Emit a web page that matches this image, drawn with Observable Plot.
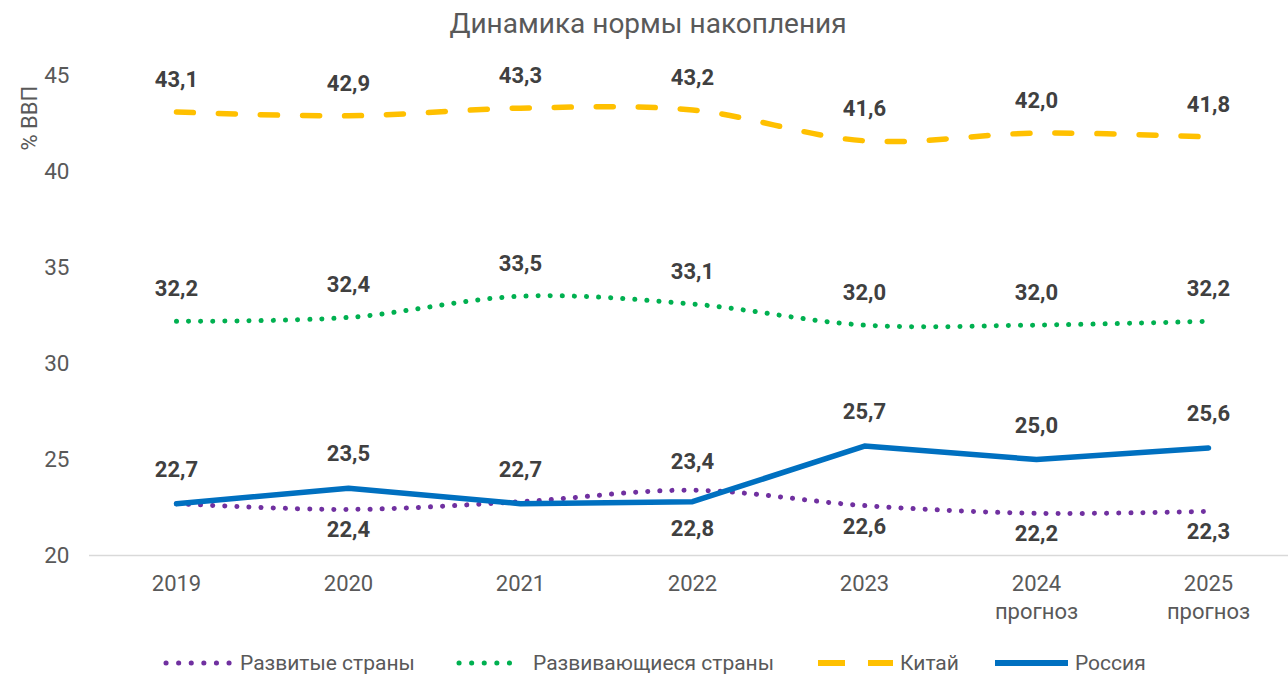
<!DOCTYPE html>
<html>
<head>
<meta charset="utf-8">
<script src="https://cdn.jsdelivr.net/npm/d3@7"></script>
<script src="https://cdn.jsdelivr.net/npm/@observablehq/plot@0.6"></script>
<style>
  html, body { margin: 0; padding: 0; background: #fff; }
  #wrap { position: relative; width: 1288px; height: 675px; font-family: Roboto, "Noto Sans", sans-serif; }
  #title { position: absolute; left: 0; top: 0; width: 1296px; height: 48px; line-height: 48px; text-align: center; font-size: 28px; color: #595959; }
  #chart { position: absolute; left: 0; top: 50px; }
  .leg { position: absolute; top: 649px; height: 28px; display: flex; align-items: center; font-size: 21px; color: #595959; white-space: nowrap; }
</style>
</head>
<body>
<div id="wrap">
  <div id="title">Динамика нормы накопления</div>
  <div id="chart"></div>
  <div id="legend"></div>
</div>
<script>
const years = ["2019", "2020", "2021", "2022", "2023", "2024", "2025"];
const tickLabels = ["2019", "2020", "2021", "2022", "2023", "2024\nпрогноз", "2025\nпрогноз"];
const yTicks = [20, 25, 30, 35, 40, 45];
const seriesNames = ["Развитые страны", "Развивающиеся страны", "Китай", "Россия"];
const developed = [22.7, 22.4, 22.8, 23.4, 22.6, 22.2, 22.3];
const developing = [32.2, 32.4, 33.5, 33.1, 32.0, 32.0, 32.2];
const china = [43.1, 42.9, 43.3, 43.2, 41.6, 42.0, 41.8];
const russia = [22.7, 23.5, 22.7, 22.8, 25.7, 25.0, 25.6];

const colors = { dev: "#7030A0", devg: "#00B050", china: "#FFC000", russia: "#0070C0" };
const fmt = v => v.toFixed(1).replace(".", ",");
const rows = vals => years.map((y, i) => ({ year: y, value: vals[i], i }));

const devRows = rows(developed);
const devgRows = rows(developing);
const chinaRows = rows(china);
const rusRows = rows(russia);

// label placement (which points show labels, above or below)
const devAbove = devRows.filter(d => d.i === 3);
const devBelow = devRows.filter(d => [1, 4, 5, 6].includes(d.i));
const rusAbove = rusRows.filter(d => d.i !== 3);
const rusBelow = rusRows.filter(d => d.i === 3);

const labelStyle = { x: "year", y: "value", text: d => fmt(d.value), fontSize: 22, fontWeight: 700, fill: "#404040" };

const chart = Plot.plot({
  width: 1288,
  height: 590,
  marginTop: 25,
  marginBottom: 85,
  marginLeft: 89,
  marginRight: 0,
  style: { fontFamily: "Roboto, 'Noto Sans', sans-serif", background: "transparent" },
  x: { type: "point", domain: years, range: [175, 1208], padding: 0 },
  y: { domain: [20, 45] },
  marks: [
    Plot.ruleY([20], { stroke: "#d9d9d9", strokeWidth: 1.5 }),
    Plot.axisY({ ticks: yTicks, tickSize: 0, tickPadding: 20, fontSize: 22.5, fill: "#595959", label: null }),
    Plot.axisX({ tickSize: 0, tickPadding: 16, fontSize: 22, fill: "#595959", lineHeight: 1.25, tickFormat: d => tickLabels[years.indexOf(d)], label: null }),
    Plot.text(["% ВВП"], { frameAnchor: "top-left", dx: -68, dy: 75, rotate: -90, fontSize: 22, fill: "#595959" }),
    Plot.line(devRows, { x: "year", y: "value", stroke: colors.dev, strokeWidth: 5, strokeDasharray: "0.1,12", strokeLinecap: "round", curve: "cardinal" }),
    Plot.line(devgRows, { x: "year", y: "value", stroke: colors.devg, strokeWidth: 5, strokeDasharray: "0.1,12", strokeLinecap: "round", curve: "cardinal" }),
    Plot.line(chinaRows, { x: "year", y: "value", stroke: colors.china, strokeWidth: 5.5, strokeDasharray: "17,25", strokeLinecap: "round", curve: "cardinal" }),
    Plot.line(rusRows, { x: "year", y: "value", stroke: colors.russia, strokeWidth: 5.5, strokeLinecap: "round", strokeLinejoin: "round" }),
    Plot.text(chinaRows, { ...labelStyle, dy: -32 }),
    Plot.text(devgRows, { ...labelStyle, dy: -32 }),
    Plot.text(rusAbove, { ...labelStyle, dy: -34 }),
    Plot.text(rusBelow, { ...labelStyle, dy: 27 }),
    Plot.text(devAbove, { ...labelStyle, dy: -28 }),
    Plot.text(devBelow, { ...labelStyle, dy: 21 })
  ]
});
document.getElementById("chart").appendChild(chart);

// legend
const legendItems = [
  { name: seriesNames[0], color: colors.dev, dash: "0.1,12.5", cap: "round", w: 5, x1: 166, x2: 230, text: 240 },
  { name: seriesNames[1], color: colors.devg, dash: "0.1,12.5", cap: "round", w: 5, x1: 459, x2: 522, text: 533 },
  { name: seriesNames[2], color: colors.china, dash: "27,23", cap: "butt", w: 6, x1: 818, x2: 893, text: 900 },
  { name: seriesNames[3], color: colors.russia, dash: null, cap: "butt", w: 6, x1: 995, x2: 1068, text: 1075 }
];
const legend = document.getElementById("legend");
legendItems.forEach(it => {
  const sw = document.createElement("div");
  sw.className = "leg";
  sw.style.left = (it.x1 - 5) + "px";
  const w = it.x2 - it.x1 + 10;
  const dashAttr = it.dash ? `stroke-dasharray="${it.dash}"` : "";
  sw.innerHTML = `<svg width="${w}" height="12"><line x1="5" x2="${w - 5}" y1="6" y2="6" stroke="${it.color}" stroke-width="${it.w}" stroke-linecap="${it.cap}" ${dashAttr}/></svg>`;
  legend.appendChild(sw);
  const tx = document.createElement("div");
  tx.className = "leg";
  tx.style.left = it.text + "px";
  tx.textContent = it.name;
  legend.appendChild(tx);
});
</script>
</body>
</html>
